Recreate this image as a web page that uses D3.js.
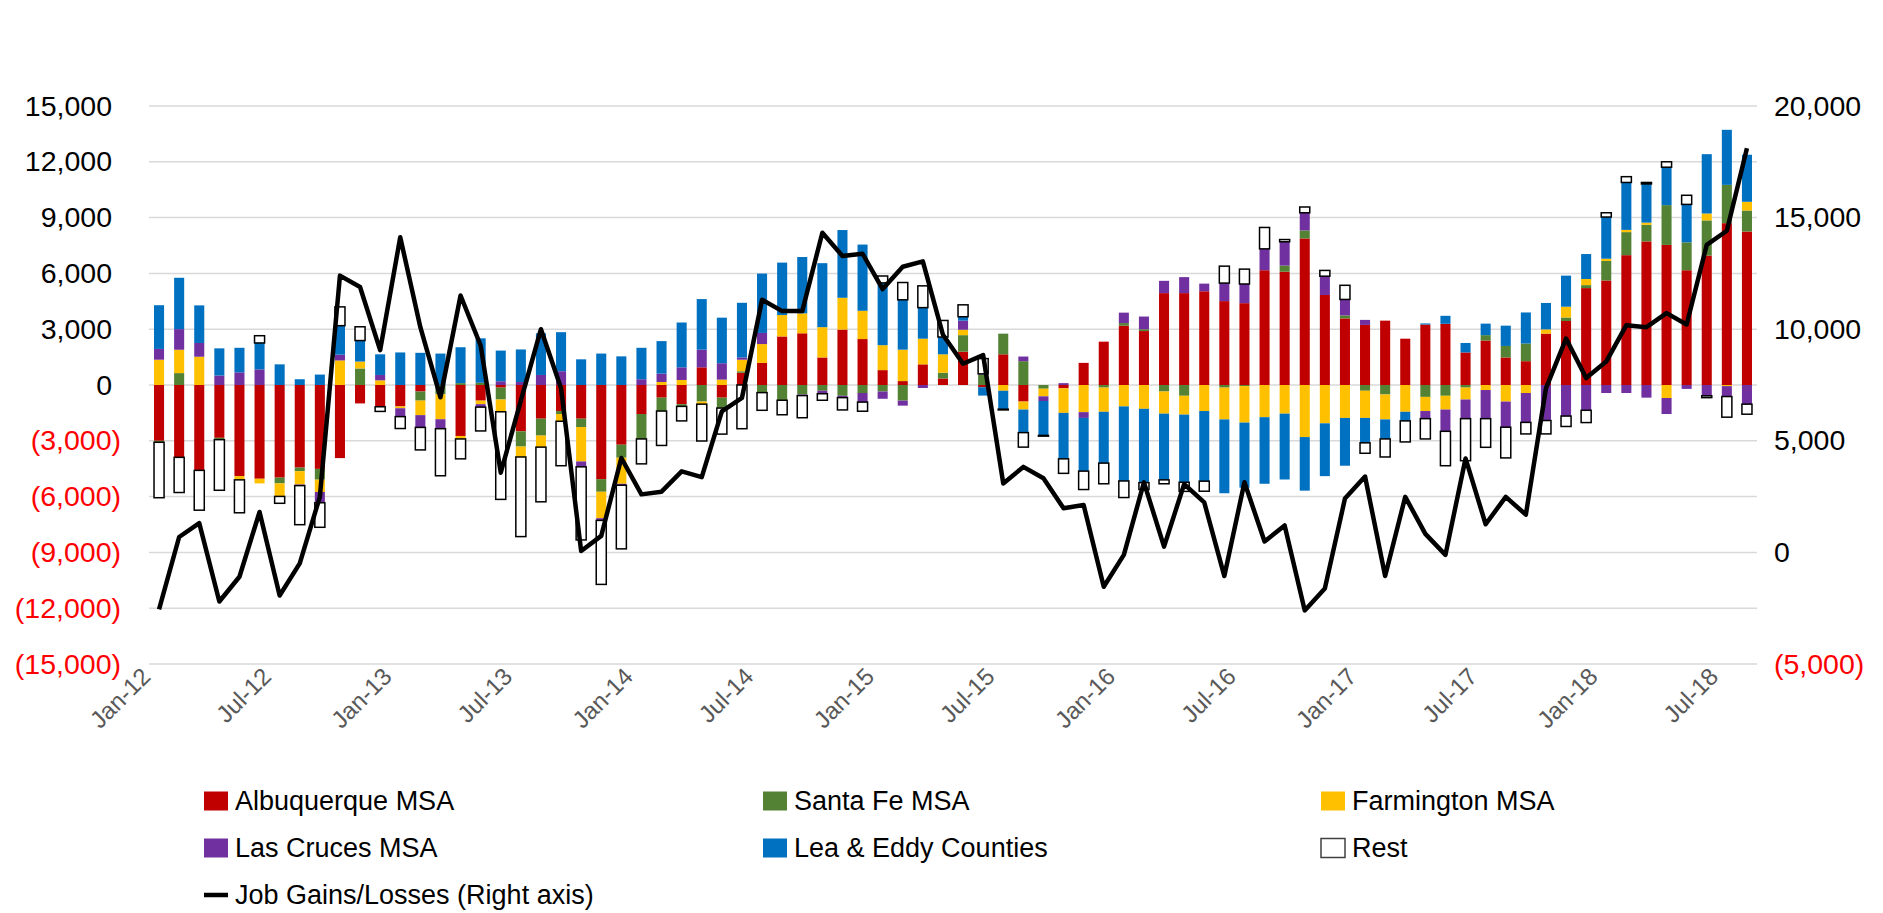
<!DOCTYPE html>
<html>
<head>
<meta charset="utf-8">
<script src="https://cdn.jsdelivr.net/npm/d3@7"></script>
<style>
  body { margin: 0; background: #fff; }
  svg { font-family: "Liberation Sans", Arial, sans-serif; }
</style>
</head>
<body>
<div id="chart"></div>
<script>
// Valores por región (empleos), ene-2012 a ago-2018
const albuquerque = [-3000,-3890,-4590,-2840,-4900,-5040,-4980,-4440,-4510,-3930,-990,-1170,
  -1150,-350,0,-2740,-840,-140,-2490,-1810,-1400,-1810,-5060,-3210,
  -1560,-680,-1030,950,-680,660,1190,2610,2780,1480,2980,2470,
  800,210,1110,350,1790,-120,1650,-890,0,-180,1190,2330,
  3190,2900,4940,4940,5040,4510,4400,6170,6090,7880,4840,3580,
  3230,3460,2490,3250,3290,1750,2390,1480,1280,2760,3440,5210,
  5620,6980,7720,7530,6170,6960,8700,8250];
const santaFe = [-80,640,0,-100,0,0,-310,-190,-580,0,890,0,
  0,-490,-500,100,120,-640,-820,-910,-160,-450,-680,-700,
  -1340,-720,-120,-890,-560,80,-410,-820,-510,-310,-580,-430,
  -350,-840,0,310,890,560,1110,1280,-200,0,0,-140,
  140,100,-350,-580,0,-140,-60,0,330,430,0,160,
  -310,-510,0,-640,-580,-140,290,620,950,0,190,160,
  1050,1240,890,2140,1500,1890,2060,1130];
const farmington = [1360,1255,1520,0,-200,-250,-700,-720,-660,1320,370,250,
  -100,-780,-1340,-160,-190,-660,-560,-620,-390,-1850,-1420,-1400,
  0,160,270,-140,290,620,1010,1150,1070,1630,1710,1520,
  1340,1690,1380,990,290,0,-310,-430,-410,-1320,-1460,-1300,
  -1150,-1280,-1190,-1010,-1400,-1710,-1960,-1730,-1540,-2800,-2060,-1770,
  -1460,-1340,-1440,-760,-740,-640,-270,-890,-430,230,580,330,
  120,120,120,-700,0,370,-60,470];
const lasCruces = [580,1110,740,510,680,840,0,-60,-580,310,0,290,
  -450,-660,-510,0,-160,200,160,540,740,-290,-120,-80,
  310,450,680,950,880,120,600,0,-60,-160,-100,-490,
  -390,-270,-160,0,490,40,0,250,-250,100,-310,0,
  560,680,660,860,410,970,1030,1150,1280,950,1010,860,
  270,0,0,-410,-1170,-1030,-1540,-1380,-1580,-1910,-1670,-1360,
  -430,-430,-680,-860,-210,-580,-560,-1030];
const leaEddy = [2350,2760,2020,1460,1320,1420,1110,310,560,1560,1130,1110,
  1750,1730,1690,1930,2390,1650,1750,2240,2100,1380,1690,1540,
  1690,1750,2410,2720,2450,2940,3190,2820,3030,3440,3640,3560,
  3350,2680,1670,930,210,-450,-990,-1240,-1850,-2470,-2860,-2760,
  -4010,-3970,-3560,-3640,-3770,-3970,-3500,-3580,-3540,-2880,-2840,-2570,
  -1340,-1050,-490,60,430,510,620,1090,1670,1420,1670,1340,
  2240,2550,2080,2040,2040,3190,2960,2530];
const rest = [-2980,-1890,-2140,-2720,-1770,390,-370,-2100,-1320,1010,740,-250,
  -640,-1210,-2530,-1070,-1280,-4710,-4280,-2940,-2390,-3930,-3440,-3420,
  -1340,-1850,-780,-1980,-1400,-2350,-950,-780,-1190,-350,-660,-490,
  370,930,1170,890,640,820,-40,-780,-40,-780,-990,-1110,
  -890,-370,-210,-490,-540,910,800,1150,120,310,310,760,
  -560,-970,-1130,-1090,-1850,-2260,-1540,-1650,-620,-720,-560,-660,
  230,310,80,290,490,-100,-1110,-540];
// Total estatal (eje derecho)
const jobGains = [-2550,690,1310,-2200,-1090,1810,-1930,-490,2490,12400,11890,9060,
  14120,10090,6950,11510,9270,3570,6800,10000,7350,60,740,4230,
  2600,2720,3630,3370,6320,6920,11320,10810,10810,14320,13280,13380,
  11800,12800,13040,9750,8450,8840,3090,3830,3320,1980,2120,-1540,
  -110,3140,260,3060,2240,-1060,3140,490,1210,-2600,-1620,2410,
  3400,-1060,2490,830,-110,4210,1260,2490,1690,7350,9580,7810,
  8550,10180,10090,10720,10210,13780,14410,18110];

const leftTicks = [15000, 12000, 9000, 6000, 3000, 0, -3000, -6000, -9000, -12000, -15000];
const rightTicks = [20000, 15000, 10000, 5000, 0, -5000];

const months = d3.timeMonth.range(new Date(2012, 0, 1), new Date(2018, 8, 1)).map(d3.timeFormat('%b-%y'));
const tickLabels = months.filter((m, i) => i % 6 === 0);

const series = [
  { key: 'alb', name: 'Albuquerque MSA', color: '#C00000', values: albuquerque },
  { key: 'sf', name: 'Santa Fe MSA', color: '#548235', values: santaFe },
  { key: 'farm', name: 'Farmington MSA', color: '#FFC000', values: farmington },
  { key: 'lc', name: 'Las Cruces MSA', color: '#7030A0', values: lasCruces },
  { key: 'lea', name: 'Lea & Eddy Counties', color: '#0070C0', values: leaEddy },
  { key: 'rest', name: 'Rest', color: '#FFFFFF', values: rest },
];

const table = months.map((m, i) => {
  const row = { month: m };
  series.forEach((s) => (row[s.key] = s.values[i]));
  return row;
});

const width = 1883;
const height = 913;
const plot = { left: 149, right: 1757, top: 106, bottom: 664 };

const svg = d3.select('#chart').append('svg').attr('width', width).attr('height', height);

const x = d3.scaleBand().domain(months).range([plot.left, plot.right]).paddingInner(0.5).paddingOuter(0.25);
const yL = d3.scaleLinear().domain([-15000, 15000]).range([plot.bottom, plot.top]);
const yR = d3.scaleLinear().domain([-5000, 20000]).range([plot.bottom, plot.top]);

const fmt = (v) => (v < 0 ? `(${d3.format(',')(-v)})` : d3.format(',')(v));

// grilla
svg.append('g')
  .selectAll('line')
  .data(leftTicks)
  .join('line')
  .attr('x1', plot.left)
  .attr('x2', plot.right)
  .attr('y1', (d) => yL(d))
  .attr('y2', (d) => yL(d))
  .attr('stroke', '#d9d9d9')
  .attr('stroke-width', 1.5);

// barras apiladas (positivos hacia arriba, negativos hacia abajo)
const stacked = d3.stack().keys(series.map((s) => s.key)).offset(d3.stackOffsetDiverging)(table);

svg.append('g')
  .selectAll('g')
  .data(stacked)
  .join('g')
  .attr('fill', (d, i) => series[i].color)
  .attr('stroke', (d, i) => (series[i].key === 'rest' ? '#000' : 'none'))
  .attr('stroke-width', 1.5)
  .selectAll('rect')
  .data((d) => d)
  .join('rect')
  .attr('x', (d) => x(d.data.month))
  .attr('width', x.bandwidth())
  .attr('y', (d) => yL(Math.max(d[0], d[1])))
  .attr('height', (d) => Math.abs(yL(d[0]) - yL(d[1])));

// línea del total
svg.append('path')
  .datum(jobGains)
  .attr('fill', 'none')
  .attr('stroke', '#000')
  .attr('stroke-width', 4.5)
  .attr('stroke-linejoin', 'round')
  .attr('d', d3.line().x((d, i) => x(months[i]) + x.bandwidth() / 2).y((d) => yR(d)));

// eje izquierdo (los positivos dejan sitio para el paréntesis)
const axL = svg.append('g')
  .attr('transform', `translate(${plot.left},0)`)
  .call(d3.axisLeft(yL).tickValues(leftTicks).tickSize(0).tickPadding(28).tickFormat(fmt));
axL.select('.domain').remove();
axL.selectAll('text')
  .style('font-size', '28.5px')
  .style('font-family', '"Liberation Sans", Arial, sans-serif')
  .attr('dx', (d) => (d < 0 ? 0 : -9))
  .attr('fill', (d) => (d < 0 ? '#FF0000' : '#000'));

// eje derecho
const axR = svg.append('g')
  .attr('transform', `translate(${plot.right},0)`)
  .call(d3.axisRight(yR).tickValues(rightTicks).tickSize(0).tickPadding(17).tickFormat(fmt));
axR.select('.domain').remove();
axR.selectAll('text')
  .style('font-size', '28.5px')
  .style('font-family', '"Liberation Sans", Arial, sans-serif')
  .attr('fill', (d) => (d < 0 ? '#FF0000' : '#000'));

// eje x, etiquetas cada 6 meses
const axX = svg.append('g')
  .attr('transform', `translate(0,${plot.bottom})`)
  .call(d3.axisBottom(x).tickValues(tickLabels).tickSize(0));
axX.select('.domain').remove();
axX.selectAll('text')
  .attr('x', 0)
  .attr('y', 0)
  .attr('dy', '0.35em')
  .attr('transform', 'translate(-13,8) rotate(-45)')
  .style('text-anchor', 'end')
  .style('font-size', '24px')
  .style('font-family', '"Liberation Sans", Arial, sans-serif')
  .attr('fill', '#595959');

// leyenda
const legendItems = series.concat([{ key: 'line', name: 'Job Gains/Losses (Right axis)' }]);
const colX = [204, 763, 1321];
const rowY = [801, 848, 895];
const legend = svg.append('g')
  .selectAll('g')
  .data(legendItems)
  .join('g')
  .attr('transform', (d, i) => `translate(${colX[i % 3]},${rowY[Math.floor(i / 3)]})`);

legend.filter((d) => d.key !== 'line')
  .append('rect')
  .attr('x', 0)
  .attr('y', -9.5)
  .attr('width', 24)
  .attr('height', 19)
  .attr('fill', (d) => d.color)
  .attr('stroke', (d) => (d.key === 'rest' ? '#404040' : 'none'))
  .attr('stroke-width', 1.5);

legend.filter((d) => d.key === 'line')
  .append('line')
  .attr('x1', 0)
  .attr('x2', 24)
  .attr('stroke', '#000')
  .attr('stroke-width', 4.5);

legend.append('text')
  .attr('x', 31)
  .attr('dy', '0.35em')
  .style('font-size', '27px')
  .attr('fill', '#000')
  .text((d) => d.name);
</script>
</body>
</html>
